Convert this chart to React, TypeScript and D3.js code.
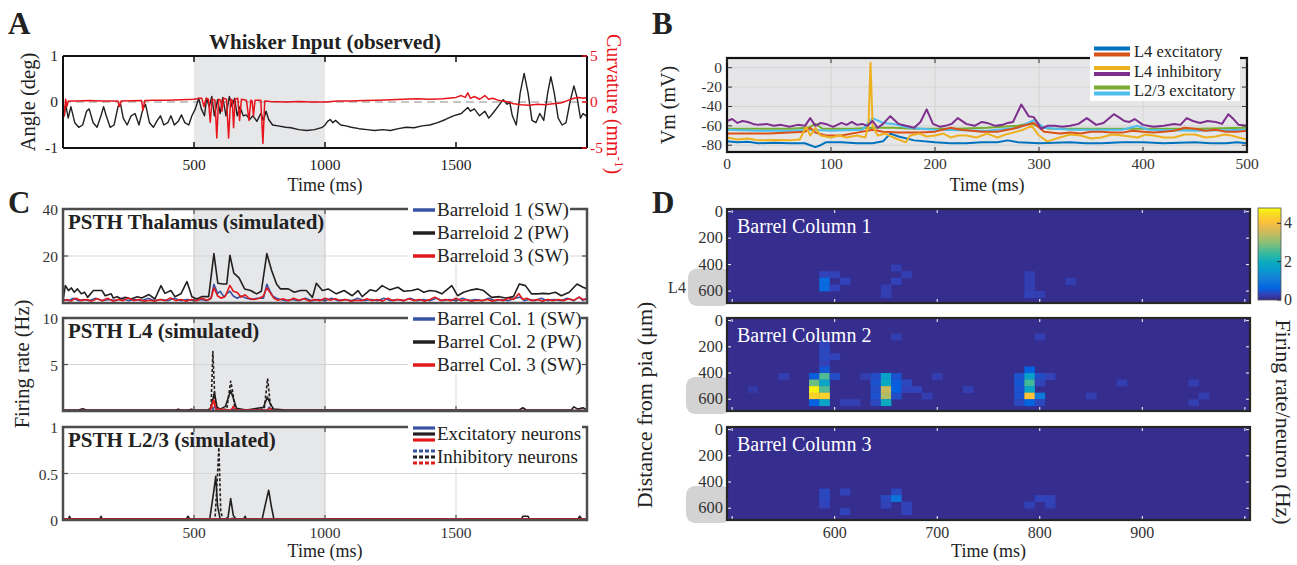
import React from 'react';
import * as d3 from 'd3';

type P = [number, number];
type Cell = [number, number, number];

const FONT = '"Liberation Serif", "Times New Roman", serif';

// ---------------- Panel A data ----------------
const timeTicks = [500, 1000, 1500];
const shade = [500, 1000];
const angleSeries: P[] = [
  [0, 0], [5, -0.3], [10, -0.05], [15, -0.2], [20, -0.35], [30, -0.1], [45, -0.45], [60, -0.55], [75, -0.5], [90, -0.2],
  [100, -0.15], [115, -0.45], [130, -0.55], [145, -0.3], [155, -0.1], [165, -0.3], [180, -0.55], [195, -0.5], [210, -0.1],
  [220, -0.05], [230, -0.35], [245, -0.5], [260, -0.3], [275, -0.25], [290, -0.5], [305, -0.15], [315, -0.05], [330, -0.45],
  [345, -0.55], [360, -0.4], [372, -0.3], [385, -0.5], [400, -0.45], [412, -0.3], [425, -0.5], [440, -0.42], [452, -0.28],
  [465, -0.45], [480, -0.5], [492, -0.3], [505, -0.15], [518, 0.08], [528, -0.15], [540, -0.3], [548, 0.08],
  [558, -0.1], [568, 0.12], [578, -0.3], [590, 0.05], [600, -0.25], [610, 0.1], [622, -0.3], [635, 0.12], [645, -0.1],
  [655, 0.08], [665, -0.3], [675, -0.1], [688, -0.3], [700, -0.28], [712, -0.38], [725, -0.3], [740, -0.42], [755, -0.25],
  [765, -0.4], [775, -0.2], [785, -0.38], [800, -0.5], [820, -0.52], [850, -0.55], [870, -0.56], [900, -0.6], [930, -0.62],
  [960, -0.6], [990, -0.55], [1000, -0.5],
  [1010, -0.42], [1020, -0.38], [1030, -0.45], [1040, -0.4], [1060, -0.5], [1080, -0.52], [1100, -0.55], [1130, -0.58],
  [1160, -0.6], [1190, -0.62], [1220, -0.6], [1250, -0.62], [1280, -0.58], [1310, -0.55], [1340, -0.56], [1370, -0.52],
  [1400, -0.5], [1430, -0.45], [1460, -0.38], [1490, -0.3], [1520, -0.25], [1545, -0.12], [1555, -0.2], [1570, -0.15],
  [1590, -0.3], [1610, -0.2], [1625, -0.35], [1640, -0.25], [1660, -0.1], [1680, 0.05], [1695, -0.05], [1705, 0.0],
  [1715, -0.3], [1730, -0.5], [1745, 0.2], [1760, 0.62], [1775, 0.2], [1790, -0.4], [1805, -0.45], [1820, -0.25],
  [1835, -0.4], [1850, 0.2], [1862, 0.55], [1875, 0.2], [1890, -0.35], [1905, -0.5], [1920, -0.45], [1935, 0.0],
  [1950, 0.35], [1962, 0.1], [1975, -0.35], [1985, -0.25], [1995, -0.3], [2000, -0.25],
];
const curvatureSeries: P[] = [
  [0, 0], [5, -1.5], [10, 0.3], [15, -0.5], [20, 0.1], [50, 0.1], [100, 0.15], [150, 0.1], [210, 0.1], [215, -0.5],
  [222, 0.1], [300, 0.15], [305, -0.9], [312, 0.15], [350, 0.2], [400, 0.2], [450, 0.25], [500, 0.3], [520, 0.4],
  [530, 0.4], [538, -0.5], [546, 0.4], [555, 0.3], [562, -2.2], [569, 0.3], [580, 0.2], [587, -3.9], [594, 0.3],
  [602, 0.2], [607, -1.0], [612, 0.4], [624, 0.3], [632, -3.9], [640, 0.3], [646, 0.2], [651, -2.8], [657, 0.3],
  [667, 0.4], [674, -2.0], [681, 0.3], [700, 0.2], [710, -2.0], [717, 0.2], [722, 0.1], [727, -1.5], [733, 0.2],
  [755, 0.2], [763, -4.5], [770, 0.1], [790, 0.05], [850, 0.0], [900, 0.05], [950, 0.0], [1000, 0.0],
  [1050, 0.1], [1100, 0.1], [1150, 0.15], [1200, 0.2], [1250, 0.25], [1300, 0.3], [1350, 0.35], [1400, 0.3],
  [1450, 0.35], [1500, 0.5], [1520, 0.7], [1535, 0.5], [1545, 1.0], [1555, 0.4], [1570, 0.6], [1590, 0.3], [1610, 0.7],
  [1625, 0.3], [1640, 0.4], [1660, 0.2], [1680, 0.1], [1700, 0.0], [1720, -0.2], [1750, -0.3], [1780, -0.35],
  [1810, -0.25], [1840, -0.3], [1870, -0.2], [1900, -0.1], [1930, 0.2], [1950, 0.4], [1970, 0.5], [1985, 0.4], [2000, 0.5],
];

// ---------------- Panel B data ----------------
const vmTicks = [0, -20, -40, -60, -80];
const vmTimeTicks = [0, 100, 200, 300, 400, 500];
const vmL4Exc1: P[] = [
  [0, -76], [10, -77], [20, -76.5], [30, -78], [45, -77.5], [60, -78], [75, -78], [80, -80], [85, -82], [90, -80],
  [95, -77], [110, -77], [125, -78], [140, -78], [150, -76], [157, -68], [165, -71], [180, -75], [200, -77], [215, -78],
  [230, -78], [245, -77], [260, -77], [270, -75], [280, -77], [300, -78], [315, -77.5], [330, -77], [345, -78],
  [360, -78], [380, -77], [400, -77], [420, -78], [435, -77.5], [450, -77], [465, -78], [480, -78], [490, -77], [500, -78],
];
const vmL4Exc2: P[] = [
  [0, -68], [20, -68], [40, -68], [60, -67], [75, -66], [80, -62], [85, -67], [95, -70], [110, -70], [125, -67], [140, -64],
  [150, -66], [165, -67], [185, -67], [200, -66], [215, -62], [225, -64], [245, -66], [260, -66], [275, -63], [285, -60],
  [295, -57], [305, -66], [320, -68], [330, -67], [340, -68], [350, -66], [360, -66], [370, -67], [380, -67], [390, -65],
  [400, -66], [410, -67], [420, -66], [430, -65], [440, -62], [450, -63], [460, -65], [470, -64], [480, -66], [490, -66],
  [500, -65],
];
const vmL4Inh1: P[] = [
  [0, -72], [10, -74], [20, -73], [30, -75], [45, -74.5], [60, -75], [70, -74], [76, -61], [80, -70], [85, -62], [90, -70],
  [100, -72], [108, -70], [115, -72], [125, -70], [133, -72], [136, -60], [138, 5], [140, -60], [145, -70], [152, -68],
  [160, -72], [172, -77], [176, -70], [185, -68], [192, -71], [200, -70], [208, -68], [215, -72], [222, -70], [230, -70],
  [240, -72], [250, -68], [260, -72], [268, -69], [275, -67], [285, -64], [293, -60], [300, -70], [308, -76], [320, -72],
  [330, -69], [340, -70], [350, -73], [360, -72], [370, -69], [380, -70], [395, -72], [402, -69], [410, -70], [420, -72],
  [430, -72], [440, -69], [450, -69], [460, -72], [470, -71], [478, -69], [485, -70], [492, -72], [500, -74],
];
const vmL4Inh2: P[] = [
  [0, -55], [5, -53], [10, -57], [15, -55], [20, -56], [25, -58], [30, -59], [38, -58], [45, -60], [52, -59], [60, -61],
  [68, -59], [75, -60], [80, -52], [85, -60], [90, -57], [95, -58], [102, -61], [110, -57], [115, -59], [120, -56],
  [125, -59], [130, -58], [135, -60], [140, -55], [145, -62], [150, -58], [157, -50], [165, -58], [172, -60], [180, -62],
  [186, -56], [192, -43], [198, -58], [205, -61], [210, -60], [216, -58], [222, -52], [230, -58], [238, -60], [245, -56],
  [250, -57], [258, -60], [265, -59], [270, -57], [275, -56], [283, -38], [290, -50], [295, -51], [302, -63], [308, -60],
  [315, -60], [322, -61], [330, -60], [338, -58], [346, -52], [355, -59], [362, -57], [372, -48], [378, -52], [382, -55],
  [387, -56], [392, -53], [400, -59], [410, -61], [420, -60], [430, -58], [436, -59], [442, -52], [448, -55], [455, -57],
  [462, -55], [470, -56], [476, -58], [482, -48], [487, -53], [492, -59], [500, -60],
];
const vmL23Exc1: P[] = [
  [0, -63], [30, -63], [60, -63], [78, -62], [85, -58], [92, -63], [120, -63], [140, -62], [160, -62], [180, -63],
  [220, -63], [250, -62], [280, -60], [292, -57], [300, -61], [310, -63], [350, -63], [400, -63], [450, -63], [500, -62],
];
const vmL23Exc2: P[] = [
  [0, -64], [30, -65], [60, -65], [80, -64], [100, -65], [130, -64], [140, -52], [150, -57], [160, -58], [175, -62],
  [200, -64], [250, -65], [280, -62], [295, -54], [305, -62], [330, -64], [380, -64], [395, -60], [405, -64], [450, -65],
  [500, -64],
];
const vmLegend = ['L4 excitatory', 'L4 inhibitory', 'L2/3 excitatory'];

// ---------------- Panel C data ----------------
const thalBarreloid1: P[] = [
  [0, 1.5], [20, 1], [40, 2], [60, 1], [80, 1.5], [100, 1], [125, 2], [150, 1], [175, 1.5], [200, 1], [225, 2], [250, 1],
  [275, 1.5], [300, 1], [325, 2], [350, 1], [375, 1.5], [400, 1], [425, 2], [450, 1], [475, 1.5], [500, 1], [525, 1.5],
  [550, 1], [565, 2], [576, 8], [590, 4], [600, 5], [615, 2.5], [625, 4], [637, 5], [650, 3], [665, 2], [680, 3], [700, 2],
  [720, 1.5], [740, 2], [765, 2], [778, 8], [790, 5], [800, 3], [815, 2], [830, 1.5], [850, 1], [875, 1.5], [900, 1],
  [925, 2], [950, 1], [975, 1.5], [1000, 1], [1025, 2], [1050, 1], [1075, 1.5], [1100, 1], [1125, 2], [1150, 1],
  [1175, 1.5], [1200, 1], [1225, 2], [1250, 1], [1275, 1.5], [1300, 1], [1325, 2], [1350, 1], [1375, 1.5], [1400, 1],
  [1425, 2], [1450, 1], [1475, 1.5], [1500, 1], [1525, 2], [1550, 1], [1575, 1.5], [1600, 1], [1625, 2], [1650, 1],
  [1675, 1.5], [1700, 1], [1725, 2], [1745, 2.5], [1760, 1], [1780, 1.5], [1800, 1], [1825, 2], [1850, 1], [1875, 1.5],
  [1900, 1], [1925, 2], [1950, 1], [1970, 2.5], [1985, 1], [2000, 2],
];
const thalBarreloid2: P[] = [
  [0, 1], [9, 7.4], [21, 5.3], [32, 6.4], [43, 4.6], [55, 6], [70, 3.9], [82, 4.6], [94, 2.4], [116, 5.3], [131, 5.3],
  [149, 5.3], [161, 3.1], [184, 3.9], [192, 2.1], [207, 2.7], [222, 1.7], [237, 2.4], [260, 1.7], [283, 2.7], [301, 2.1],
  [328, 3.6], [351, 1.7], [374, 7.4], [389, 4.1], [412, 5.3], [427, 2.7], [450, 3.9], [473, 9.1], [492, 2.7], [511, 1.7],
  [529, 2.7], [556, 2.7], [576, 21], [591, 8.4], [610, 8.1], [625, 8.1], [637, 20.3], [652, 12.7], [672, 10.7], [693, 6],
  [716, 5.3], [739, 3.9], [757, 5], [778, 21], [796, 13.9], [815, 8.1], [830, 6], [860, 6], [883, 4.6], [906, 5.3],
  [929, 5.3], [952, 2.4], [967, 8.4], [990, 5.3], [1012, 6], [1043, 3.9], [1073, 5.3], [1104, 3.1], [1126, 5.3],
  [1142, 2.7], [1172, 5.6], [1195, 5], [1218, 7.4], [1248, 5.6], [1278, 6.7], [1301, 5], [1332, 5.3], [1354, 6],
  [1377, 4.6], [1400, 5.3], [1423, 5], [1446, 3.9], [1461, 5.3], [1484, 7.4], [1506, 3.1], [1529, 4.6], [1560, 5.6],
  [1582, 6], [1605, 5.3], [1636, 2.4], [1666, 2.7], [1689, 2.1], [1719, 2.7], [1742, 8.1], [1765, 7.4], [1788, 3.9],
  [1810, 3.9], [1833, 4.1], [1856, 3.9], [1879, 4.6], [1902, 3.1], [1932, 4.6], [1962, 8.1], [1985, 6.7], [2000, 6],
];
const thalBarreloid3: P[] = [
  [0, 0.8], [15, 1.5], [30, 0.8], [50, 2], [70, 1], [90, 1.5], [110, 0.8], [130, 1.8], [150, 1], [170, 2], [190, 0.8],
  [210, 1.5], [230, 1], [250, 2.2], [270, 1], [290, 1.5], [310, 0.8], [330, 1.2], [350, 0.8], [370, 1.5], [390, 1],
  [410, 2.2], [430, 1], [450, 1.5], [470, 0.8], [490, 1.5], [510, 1], [530, 2], [550, 1.2], [565, 2], [576, 6.5],
  [590, 3], [605, 2], [620, 3], [637, 7.5], [650, 5], [665, 4.5], [680, 2.5], [695, 3.5], [710, 2], [730, 1.5], [750, 2],
  [765, 3], [778, 6.5], [790, 4.5], [805, 2], [820, 1.2], [840, 1.8], [860, 1], [880, 2], [900, 1.2], [920, 1.8],
  [940, 0.8], [960, 1.5], [980, 1], [1000, 2], [1020, 1.2], [1040, 1.8], [1060, 1], [1080, 1.5], [1100, 0.8], [1120, 1.2],
  [1140, 1], [1160, 1.8], [1180, 1], [1200, 1.5], [1220, 0.8], [1240, 2], [1260, 1], [1280, 1.5], [1300, 1], [1320, 1.8],
  [1340, 1], [1360, 1.5], [1380, 0.8], [1400, 1.5], [1420, 2.5], [1440, 1], [1460, 1.5], [1480, 1], [1500, 2], [1520, 1],
  [1540, 1.5], [1560, 0.8], [1580, 1.2], [1600, 1], [1620, 1.5], [1640, 0.8], [1660, 1.5], [1680, 1], [1700, 2],
  [1720, 1.5], [1740, 4], [1755, 1.5], [1770, 2], [1790, 1], [1810, 1.5], [1830, 0.8], [1850, 1.5], [1870, 1],
  [1890, 1.5], [1910, 1], [1930, 1.8], [1950, 1.2], [1970, 2.5], [1985, 1.5], [2000, 1.8],
];

const l4Col1Exc: P[] = [[0, 0.05], [570, 0.05], [580, 0.5], [590, 0.1], [645, 0.1], [650, 0.2], [660, 0.05], [780, 0.1], [787, 0.4], [795, 0.05], [2000, 0.05]];
const l4Col1Inh: P[] = [[0, 0.02], [570, 0.02], [578, 0.6], [588, 0.02], [2000, 0.02]];
const l4Col2Exc: P[] = [
  [0, 0.1], [60, 0.1], [75, 0.25], [90, 0.1], [430, 0.1], [440, 0.2], [450, 0.1], [480, 0.1], [490, 0.2], [500, 0.1],
  [555, 0.1], [565, 0.4], [578, 2], [588, 0.4], [600, 0.2], [620, 0.5], [640, 2.2], [652, 1.2], [662, 0.3], [700, 0.1],
  [765, 0.4], [780, 1.5], [792, 0.7], [805, 0.2], [850, 0.1], [1740, 0.1], [1755, 0.35], [1770, 0.1], [1850, 0.1],
  [1940, 0.1], [1950, 0.45], [1965, 0.2], [1985, 0.35], [2000, 0.1],
];
const l4Col2Inh: P[] = [
  [0, 0.02], [550, 0.02], [565, 0.3], [572, 6.4], [580, 1], [590, 0.1], [625, 0.2], [640, 3.2], [648, 2], [656, 0.3],
  [680, 0.05], [768, 0.2], [781, 3.5], [790, 1], [800, 0.05], [2000, 0.02],
];
const l4Col3Exc: P[] = [[0, 0.05], [560, 0.05], [575, 1.2], [585, 0.2], [640, 0.1], [650, 0.4], [660, 0.1], [780, 0.1], [790, 0.3], [800, 0.05], [2000, 0.05]];
const l4Col3Inh: P[] = [[0, 0.02], [565, 0.02], [575, 1], [585, 0.02], [640, 0.02], [650, 0.5], [660, 0.02], [2000, 0.02]];

const l23Col1Exc: P[] = [[0, 0.01], [640, 0.01], [647, 0.02], [654, 0.01], [2000, 0.01]];
const l23Col1Inh: P[] = [[0, 0.005], [2000, 0.005]];
const l23Col2Exc: P[] = [
  [0, 0.01], [20, 0.01], [25, 0.04], [30, 0.01], [140, 0.01], [145, 0.04], [150, 0.01], [470, 0.01], [477, 0.04], [484, 0.01],
  [560, 0.01], [575, 0.3], [583, 0.47], [590, 0.15], [600, 0.01], [620, 0.01], [630, 0.03], [640, 0.23], [650, 0.05],
  [660, 0.01], [690, 0.01], [695, 0.04], [700, 0.01], [760, 0.01], [775, 0.2], [785, 0.32], [795, 0.15], [805, 0.01],
  [1750, 0.01], [1755, 0.04], [1775, 0.04], [1780, 0.01], [1965, 0.01], [1972, 0.04], [1980, 0.01], [2000, 0.01],
];
const l23Col2Inh: P[] = [[0, 0.005], [580, 0.005], [588, 0.4], [595, 0.78], [602, 0.1], [610, 0.005], [2000, 0.005]];
const l23Col3Exc: P[] = [[0, 0.01], [2000, 0.01]];
const l23Col3Inh: P[] = [[0, 0.005], [2000, 0.005]];

const thalLegend = ['Barreloid 1 (SW)', 'Barreloid 2 (PW)', 'Barreloid 3 (SW)'];
const l4Legend = ['Barrel Col. 1 (SW)', 'Barrel Col. 2 (PW)', 'Barrel Col. 3 (SW)'];
const l23Legend = ['Excitatory neurons', 'Inhibitory neurons'];

// ---------------- Panel D data ----------------
// [time bin centre (ms), depth bin top (µm), firing rate (Hz)]
const heatCol1: Cell[] = [
  [590, 450, 0.3], [600, 450, 0.3], [590, 500, 0.75], [590, 550, 0.75], [600, 550, 0.3], [610, 500, 0.3],
  [660, 400, 0.25], [670, 450, 0.25], [660, 500, 0.3], [650, 550, 0.25], [650, 600, 0.25],
  [790, 450, 0.25], [790, 500, 0.25], [790, 550, 0.25], [790, 600, 0.3], [800, 600, 0.25], [830, 500, 0.25],
];
const heatCol2: Cell[] = [
  [520, 500, 0.2], [550, 400, 0.25],
  [580, 400, 0.55], [580, 450, 2.8], [580, 500, 4.7], [580, 550, 4.3], [580, 600, 0.6],
  [590, 150, 0.3], [590, 200, 0.35], [590, 250, 0.35], [590, 300, 0.3], [590, 350, 0.5],
  [590, 400, 2.6], [590, 450, 1.8], [590, 500, 2.6], [590, 550, 4.3], [590, 600, 1.8],
  [600, 250, 0.3], [600, 400, 0.4], [610, 600, 0.25], [620, 600, 0.25], [630, 400, 0.25],
  [640, 400, 0.4], [640, 450, 0.45], [640, 500, 0.4], [640, 550, 0.45], [640, 600, 0.35],
  [650, 400, 1.7], [650, 450, 1.9], [650, 500, 3.5], [650, 550, 3.3], [650, 600, 1.9],
  [660, 400, 0.45], [660, 450, 0.55], [660, 500, 0.6], [660, 550, 0.4], [660, 100, 0.25],
  [670, 450, 0.35], [670, 500, 0.3], [680, 500, 0.3], [690, 550, 0.25], [700, 400, 0.25], [730, 500, 0.25],
  [780, 400, 0.45], [780, 450, 0.5], [780, 500, 0.45], [780, 550, 0.45], [780, 600, 0.35],
  [790, 350, 0.6], [790, 400, 1.7], [790, 450, 2.5], [790, 500, 1.8], [790, 550, 4.1], [790, 600, 0.65],
  [800, 400, 0.4], [800, 450, 0.3], [800, 550, 1.0], [800, 600, 0.35], [810, 400, 0.3], [800, 100, 0.25],
  [850, 550, 0.25], [880, 450, 0.25], [950, 450, 0.25], [960, 550, 0.25], [950, 600, 0.25],
];
const heatCol3: Cell[] = [
  [590, 450, 0.35], [590, 500, 0.35], [590, 550, 0.3], [610, 450, 0.3], [610, 600, 0.3],
  [650, 500, 0.35], [650, 550, 0.3], [660, 450, 0.35], [660, 500, 0.9], [670, 550, 0.3], [670, 600, 0.3],
  [790, 550, 0.28], [800, 500, 0.3], [810, 500, 0.3], [810, 550, 0.28],
];
const heatTitles = ['Barrel Column 1', 'Barrel Column 2', 'Barrel Column 3'];
const heatTimeTicks = [500, 600, 700, 800, 900, 1000];
const heatTimeLabels = [600, 700, 800, 900];
const depthTicks = [0, 200, 400, 600];
const colorbarTicks = [0, 2, 4];

// parula colormap anchors
const parulaT = [0, 0.0635, 0.127, 0.19, 0.254, 0.317, 0.413, 0.508, 0.603, 0.698, 0.794, 0.857, 0.921, 1];
const parulaC = ['#352a87', '#3243ba', '#0363e1', '#0d75dc', '#1485d4', '#0998d1', '#0aacbe', '#38b99e', '#7cbf7b', '#b7bd64', '#e9b94e', '#ffc337', '#f7d826', '#f9fb0e'];

const C_BLUE = '#3953a4';
const C_BLACK = '#231f20';
const C_RED = '#e31a1c';

// ---------------- Layout ----------------
const AX_L = 63, AX_R = 587;
const cRows = [{ t: 209, b: 303 }, { t: 318, b: 411 }, { t: 427, b: 520 }];
const D_L = 727, D_R = 1250;

function lineGen(x: d3.ScaleLinear<number, number>, y: d3.ScaleLinear<number, number>) {
  return d3.line<P>().x(d => x(d[0])).y(d => y(d[1]));
}

function PanelA() {
  const T = 56, B = 148;
  const x = d3.scaleLinear().domain([0, 2000]).range([AX_L, AX_R]);
  const y = d3.scaleLinear().domain([-1, 1]).range([B, T]);
  const y2 = d3.scaleLinear().domain([-5, 5]).range([B, T]);
  const la = lineGen(x, y);
  const lc = lineGen(x, y2);
  return (
    <g>
      <defs>
        <clipPath id="clipA"><rect x={AX_L} y={T} width={AX_R - AX_L} height={B - T} /></clipPath>
      </defs>
      <rect x={x(shade[0])} y={T} width={x(shade[1]) - x(shade[0])} height={B - T} fill="#e6e7e9" />
      <line x1={AX_L} x2={AX_R} y1={y(0)} y2={y(0)} stroke="#b3b3b3" strokeWidth={1.3} strokeDasharray="8,5" />
      <g clipPath="url(#clipA)">
        <path d={la(angleSeries) || ''} fill="none" stroke={C_BLACK} strokeWidth={1.4} strokeLinejoin="round" />
        <path d={lc(curvatureSeries) || ''} fill="none" stroke="#e8141c" strokeWidth={1.5} strokeLinejoin="round" />
      </g>
      <line x1={AX_L} x2={AX_R} y1={T} y2={T} stroke="#111" strokeWidth={2} />
      <line x1={AX_L} x2={AX_R} y1={B} y2={B} stroke="#111" strokeWidth={2} />
      <line x1={AX_L} x2={AX_L} y1={T} y2={B} stroke="#111" strokeWidth={2} />
      <line x1={AX_R} x2={AX_R} y1={T} y2={B} stroke="#111" strokeWidth={2} />
      {timeTicks.map(t => (
        <g key={t}>
          <line x1={x(t)} x2={x(t)} y1={T} y2={T + 6} stroke="#111" strokeWidth={1.5} />
          <line x1={x(t)} x2={x(t)} y1={B} y2={B - 6} stroke="#111" strokeWidth={1.5} />
          <text x={x(t)} y={B + 22} fontSize={15.5} textAnchor="middle" fill="#222">{t}</text>
        </g>
      ))}
      {[1, 0, -1].map(v => (
        <text key={v} x={AX_L - 5} y={y(v) + 5} fontSize={15.5} textAnchor="end" fill="#222">{v}</text>
      ))}
      {[5, 0, -5].map(v => (
        <g key={v}>
          <line x1={AX_R} x2={AX_R - 5} y1={y2(v)} y2={y2(v)} stroke="#e8141c" strokeWidth={1.5} />
          <text x={AX_R + 3} y={y2(v) + 5} fontSize={15.5} textAnchor="start" fill="#e8141c">{v}</text>
        </g>
      ))}
      <text x={(AX_L + AX_R) / 2} y={49} fontSize={21} fontWeight="bold" textAnchor="middle" fill="#222">Whisker Input (observed)</text>
      <text x={(AX_L + AX_R) / 2} y={191} fontSize={18} textAnchor="middle" fill="#222">Time (ms)</text>
      <text transform={`translate(35,${(T + B) / 2}) rotate(-90)`} fontSize={20.5} textAnchor="middle" fill="#222">Angle (deg)</text>
      <text transform={`translate(607,${(T + B) / 2 + 2}) rotate(90)`} fontSize={20} textAnchor="middle" fill="#e8141c">
        <tspan>Curvature (mm</tspan><tspan fontSize={13} dy={-8}>-1</tspan><tspan dy={8}>)</tspan>
      </text>
      <text x={8} y={34} fontSize={31} fontWeight="bold" fill="#222">A</text>
    </g>
  );
}

function PanelB() {
  const L = 727, R = 1247, T = 58, B = 152;
  const x = d3.scaleLinear().domain([0, 500]).range([L, R]);
  const y = d3.scaleLinear().domain([-87, 10]).range([B, T]);
  const lg = lineGen(x, y);
  const series: { d: P[]; c: string }[] = [
    { d: vmL4Exc1, c: '#0072bd' },
    { d: vmL23Exc1, c: '#77ac30' },
    { d: vmL23Exc2, c: '#4dbeee' },
    { d: vmL4Exc2, c: '#d95319' },
    { d: vmL4Inh1, c: '#edb120' },
    { d: vmL4Inh2, c: '#7e2f8e' },
  ];
  const legendPairs = [['#0072bd', '#d95319'], ['#edb120', '#7e2f8e'], ['#77ac30', '#4dbeee']];
  return (
    <g>
      <defs>
        <clipPath id="clipB"><rect x={L} y={T} width={R - L} height={B - T} /></clipPath>
      </defs>
      <rect x={L} y={T} width={R - L} height={B - T} fill="#e6e6e8" />
      {vmTicks.map(v => <line key={v} x1={L} x2={R} y1={y(v)} y2={y(v)} stroke="#d2d2d2" strokeWidth={0.9} />)}
      {vmTimeTicks.map(t => <line key={t} x1={x(t)} x2={x(t)} y1={T} y2={B} stroke="#d2d2d2" strokeWidth={0.9} />)}
      <g clipPath="url(#clipB)">
        {series.map((s, i) => <path key={i} d={lg(s.d) || ''} fill="none" stroke={s.c} strokeWidth={2} strokeLinejoin="round" />)}
      </g>
      <rect x={L} y={T} width={R - L} height={B - T} fill="none" stroke="#111" strokeWidth={2.2} />
      {vmTicks.map(v => (
        <g key={v}>
          <line x1={L} x2={L + 5} y1={y(v)} y2={y(v)} stroke="#333" strokeWidth={1} />
          <line x1={R} x2={R - 5} y1={y(v)} y2={y(v)} stroke="#333" strokeWidth={1} />
          <text x={L - 5} y={y(v) + 5} fontSize={15.5} textAnchor="end" fill="#333">{v}</text>
        </g>
      ))}
      {vmTimeTicks.map(t => (
        <g key={t}>
          <line x1={x(t)} x2={x(t)} y1={B} y2={B - 5} stroke="#333" strokeWidth={1} />
          <line x1={x(t)} x2={x(t)} y1={T} y2={T + 5} stroke="#333" strokeWidth={1} />
          <text x={x(t)} y={B + 17} fontSize={15.5} textAnchor="middle" fill="#333">{t}</text>
        </g>
      ))}
      <rect x={1090} y={43} width={150} height={58} fill="#fff" />
      {vmLegend.map((lab, i) => {
        const cy = 52 + i * 19.5;
        return (
          <g key={lab}>
            <line x1={1094} x2={1130} y1={cy - 3.5} y2={cy - 3.5} stroke={legendPairs[i][0]} strokeWidth={4} />
            <line x1={1094} x2={1130} y1={cy + 2.5} y2={cy + 2.5} stroke={legendPairs[i][1]} strokeWidth={4} />
            <text x={1134} y={cy + 5} fontSize={16.5} fill="#222">{lab}</text>
          </g>
        );
      })}
      <text x={(L + R) / 2} y={191} fontSize={18} textAnchor="middle" fill="#222">Time (ms)</text>
      <text transform={`translate(675,${(T + B) / 2}) rotate(-90)`} fontSize={20} textAnchor="middle" fill="#222">Vm (mV)</text>
      <text x={652} y={34} fontSize={31} fontWeight="bold" fill="#222">B</text>
    </g>
  );
}

function PanelC() {
  const x = d3.scaleLinear().domain([0, 2000]).range([AX_L, AX_R]);
  const panels = [
    {
      max: 40, ticks: [20, 40], labels: ['20', '40'], grid: 20, title: 'PSTH Thalamus (simulated)',
      series: [
        { d: thalBarreloid1, c: C_BLUE, dash: '' },
        { d: thalBarreloid2, c: C_BLACK, dash: '' },
        { d: thalBarreloid3, c: C_RED, dash: '' },
      ],
    },
    {
      max: 10, ticks: [5, 10], labels: ['5', '10'], grid: 5, title: 'PSTH L4 (simulated)',
      series: [
        { d: l4Col1Exc, c: C_BLUE, dash: '' },
        { d: l4Col1Inh, c: C_BLUE, dash: '3,2' },
        { d: l4Col2Exc, c: C_BLACK, dash: '' },
        { d: l4Col2Inh, c: C_BLACK, dash: '3,2' },
        { d: l4Col3Exc, c: C_RED, dash: '' },
        { d: l4Col3Inh, c: C_RED, dash: '3,2' },
      ],
    },
    {
      max: 1, ticks: [0, 0.5, 1], labels: ['0', '0.5', '1'], grid: 0.5, title: 'PSTH L2/3 (simulated)',
      series: [
        { d: l23Col1Exc, c: C_BLUE, dash: '' },
        { d: l23Col1Inh, c: C_BLUE, dash: '3,2' },
        { d: l23Col2Exc, c: C_BLACK, dash: '' },
        { d: l23Col2Inh, c: C_BLACK, dash: '3,2' },
        { d: l23Col3Exc, c: C_RED, dash: '' },
        { d: l23Col3Inh, c: C_RED, dash: '3,2' },
      ],
    },
  ];
  return (
    <g>
      {panels.map((p, pi) => {
        const { t: T, b: B } = cRows[pi];
        const y = d3.scaleLinear().domain([0, p.max]).range([B, T]);
        const lg = lineGen(x, y);
        const id = `clipC${pi}`;
        return (
          <g key={pi}>
            <defs><clipPath id={id}><rect x={AX_L} y={T} width={AX_R - AX_L} height={B - T + 1} /></clipPath></defs>
            <rect x={x(shade[0])} y={T} width={x(shade[1]) - x(shade[0])} height={B - T} fill="#e6e7e9" />
            <line x1={AX_L} x2={AX_R} y1={y(p.grid)} y2={y(p.grid)} stroke="#d6d6d6" strokeWidth={1.2} />
            {timeTicks.map(t => <line key={t} x1={x(t)} x2={x(t)} y1={T} y2={B} stroke={t === 1500 ? '#e0e0e0' : '#cfcfd1'} strokeWidth={1.2} />)}
            <g clipPath={`url(#${id})`}>
              {p.series.map((s, i) => (
                <path key={i} d={lg(s.d) || ''} fill="none" stroke={s.c} strokeWidth={1.6} strokeDasharray={s.dash || undefined} strokeLinejoin="round" />
              ))}
            </g>
            <rect x={AX_L} y={T} width={AX_R - AX_L} height={B - T} fill="none" stroke="#4d4d4d" strokeWidth={2.5} />
            {p.ticks.map(v => (
              <g key={v}>
                <line x1={AX_L} x2={AX_L + 5} y1={y(v)} y2={y(v)} stroke="#4d4d4d" strokeWidth={1.2} />
                <line x1={AX_R} x2={AX_R - 5} y1={y(v)} y2={y(v)} stroke="#4d4d4d" strokeWidth={1.2} />
              </g>
            ))}
            {p.ticks.map((v, i) => (
              <text key={v} x={AX_L - 5} y={y(v) + 6} fontSize={15.5} textAnchor="end" fill="#333">{p.labels[i]}</text>
            ))}
            {timeTicks.map(t => (
              <g key={t}>
                <line x1={x(t)} x2={x(t)} y1={B} y2={B - 5} stroke="#4d4d4d" strokeWidth={1.2} />
                <line x1={x(t)} x2={x(t)} y1={T} y2={T + 5} stroke="#4d4d4d" strokeWidth={1.2} />
              </g>
            ))}
            <text x={AX_L + 5} y={T + 20} fontSize={21} fontWeight="bold" fill="#222">{p.title}</text>
          </g>
        );
      })}
      {/* legends */}
      <rect x={408} y={199} width={162} height={66} fill="#fff" />
      {thalLegend.map((lab, i) => {
        const cy = 210 + i * 23;
        return (
          <g key={lab}>
            <line x1={413} x2={435} y1={cy} y2={cy} stroke={[C_BLUE, C_BLACK, C_RED][i]} strokeWidth={3.5} />
            <text x={437} y={cy + 6} fontSize={19} fill="#222">{lab}</text>
          </g>
        );
      })}
      <rect x={408} y={308} width={173} height={66} fill="#fff" />
      {l4Legend.map((lab, i) => {
        const cy = 319 + i * 23;
        return (
          <g key={lab}>
            <line x1={413} x2={435} y1={cy} y2={cy} stroke={[C_BLUE, C_BLACK, C_RED][i]} strokeWidth={3.5} />
            <text x={437} y={cy + 6} fontSize={19} fill="#222">{lab}</text>
          </g>
        );
      })}
      <rect x={408} y={420} width={174} height={48} fill="#fff" />
      {l23Legend.map((lab, i) => {
        const cy = 434 + i * 23;
        return (
          <g key={lab}>
            {[C_BLUE, C_BLACK, C_RED].map((c, k) => (
              <line key={k} x1={413} x2={435} y1={cy - 6 + k * 6} y2={cy - 6 + k * 6} stroke={c} strokeWidth={3.2} strokeDasharray={i === 1 ? '4,2' : undefined} />
            ))}
            <text x={437} y={cy + 6} fontSize={19} fill="#222">{lab}</text>
          </g>
        );
      })}
      {timeTicks.map(t => (
        <text key={t} x={x(t)} y={538} fontSize={15.5} textAnchor="middle" fill="#333">{t}</text>
      ))}
      <text x={(AX_L + AX_R) / 2} y={557} fontSize={18} textAnchor="middle" fill="#222">Time (ms)</text>
      <text transform={`translate(29,364) rotate(-90)`} fontSize={20.5} textAnchor="middle" fill="#222">Firing rate (Hz)</text>
      <text x={8} y={213} fontSize={31} fontWeight="bold" fill="#222">C</text>
    </g>
  );
}

function PanelD() {
  const x = d3.scaleLinear().domain([495, 1005]).range([D_L, D_R]);
  const color = d3.scaleLinear<string>().domain(parulaT.map(t => t * 4.8)).range(parulaC).interpolate(d3.interpolateRgb).clamp(true);
  const maps = [heatCol1, heatCol2, heatCol3];
  const cbL = 1258, cbR = 1281, cbT = cRows[0].t - 1, cbB = cRows[0].b - 3;
  const cy = d3.scaleLinear().domain([0, 4.8]).range([cbB, cbT]);
  return (
    <g>
      <defs>
        <linearGradient id="parulaGrad" x1="0" y1="1" x2="0" y2="0">
          {parulaT.map((t, i) => <stop key={i} offset={`${t * 100}%`} stopColor={parulaC[i]} />)}
        </linearGradient>
      </defs>
      {maps.map((cells, mi) => {
        const { t: T, b: B } = cRows[mi];
        const y = d3.scaleLinear().domain([-20, 690]).range([T, B]);
        const id = `clipD${mi}`;
        const patchTop = y(430);
        const px = mi === 0 ? 688 : 686;
        return (
          <g key={mi}>
            <defs><clipPath id={id}><rect x={D_L} y={T} width={D_R - D_L} height={B - T} /></clipPath></defs>
            <rect x={px} y={patchTop} width={D_L - px + 4} height={B - patchTop + 3} rx={9} fill="#d3d3d3" />
            <rect x={D_L} y={T} width={D_R - D_L} height={B - T} fill={color(0.05)} />
            <g clipPath={`url(#${id})`}>
              {cells.map((c, i) => (
                <rect key={i} x={x(c[0] - 5)} y={y(c[1])} width={x(c[0] + 5) - x(c[0] - 5) + 0.3} height={y(c[1] + 50) - y(c[1]) + 0.3} fill={color(c[2])} />
              ))}
            </g>
            {heatTimeTicks.map(t => (
              <g key={t}>
                <line x1={x(t)} x2={x(t)} y1={T} y2={T + 4} stroke="#fff" strokeWidth={1} />
                <line x1={x(t)} x2={x(t)} y1={B} y2={B - 4} stroke="#fff" strokeWidth={1} />
              </g>
            ))}
            {depthTicks.map(d => (
              <g key={d}>
                <line x1={D_L} x2={D_L + 4} y1={y(d)} y2={y(d)} stroke="#fff" strokeWidth={1} />
                <line x1={D_R} x2={D_R - 4} y1={y(d)} y2={y(d)} stroke="#fff" strokeWidth={1} />
                <text x={D_L - 4} y={y(d) + 5} fontSize={16.5} textAnchor="end" fill="#333">{d}</text>
              </g>
            ))}
            <rect x={D_L} y={T} width={D_R - D_L} height={B - T} fill="none" stroke="#262626" strokeWidth={2.2} />
            <text x={D_L + 10} y={T + 24} fontSize={20} fill="#fff">{heatTitles[mi]}</text>
          </g>
        );
      })}
      <text x={677} y={cRows[0].b - 10} fontSize={16} textAnchor="middle" fill="#333">L4</text>
      {heatTimeLabels.map(t => (
        <text key={t} x={x(t)} y={538} fontSize={16} textAnchor="middle" fill="#333">{t}</text>
      ))}
      <text x={(D_L + D_R) / 2} y={557} fontSize={18} textAnchor="middle" fill="#222">Time (ms)</text>
      <text transform={`translate(652,405) rotate(-90)`} fontSize={22} textAnchor="middle" fill="#222">Distance from pia (μm)</text>
      <rect x={cbL} y={cbT} width={cbR - cbL} height={cbB - cbT} fill="url(#parulaGrad)" stroke="#555" strokeWidth={0.8} />
      {colorbarTicks.map(v => (
        <g key={v}>
          <line x1={cbR} x2={cbR - 4} y1={cy(v)} y2={cy(v)} stroke="#333" strokeWidth={1} />
          <text x={cbR + 3} y={cy(v) + 5} fontSize={16} fill="#333">{v}</text>
        </g>
      ))}
      <text transform={`translate(1276,422) rotate(90)`} fontSize={22} textAnchor="middle" fill="#222">Firing rate/neuron (Hz)</text>
      <text x={652} y={213} fontSize={31} fontWeight="bold" fill="#222">D</text>
    </g>
  );
}

export default function App() {
  return (
    <svg width={1297} height={565} style={{ position: 'absolute', left: 0, top: 0, background: '#fff' }} fontFamily={FONT}>
      <rect x={0} y={0} width={1297} height={565} fill="#fff" />
      <PanelA />
      <PanelB />
      <PanelC />
      <PanelD />
    </svg>
  );
}
